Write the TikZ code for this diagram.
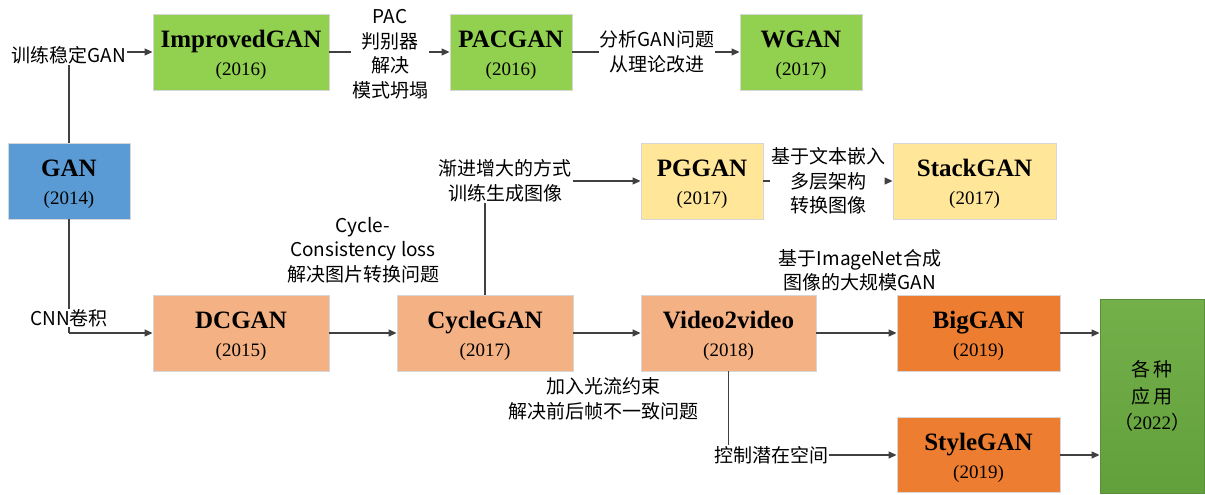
\documentclass[tikz,border=0pt]{standalone}
\usepackage{fontspec}
\setmainfont{Liberation Serif}
\newfontfamily\cjk{Noto Sans CJK SC}
\usetikzlibrary{arrows.meta}
\definecolor{cgreen}{HTML}{92D050}
\definecolor{cblue}{HTML}{5B9BD5}
\definecolor{clorange}{HTML}{F4B183}
\definecolor{cyellow}{HTML}{FFE699}
\definecolor{corange}{HTML}{ED7D31}
\definecolor{cappA}{HTML}{74B04A}
\definecolor{cappB}{HTML}{62A03C}
\definecolor{cappD}{HTML}{5A8F3A}
\definecolor{cline}{HTML}{404040}
\newcommand{\ttl}[1]{{\rule{0pt}{23pt}\fontsize{25}{27}\selectfont\bfseries #1}}
\begin{document}
\begin{tikzpicture}[x=1pt,y=-1pt,
  box/.style={draw=black!16, line width=0.9pt, minimum height=76pt, inner sep=0pt,
    align=center, font=\fontsize{19}{28}\selectfont},
  lab/.style={inner sep=1pt, align=center, font=\cjk\fontsize{19}{24.5}\selectfont},
  conn/.style={draw=cline, line width=1.3pt},
  arr/.style={conn, -{Triangle[length=8pt,width=7pt]}}]
\useasboundingbox (0,0) rectangle (1205,495);
% boxes
\node[box, fill=cgreen, minimum width=176pt] (imp) at (241,52) {\ttl{ImprovedGAN}\\(2016)};
\node[box, fill=cgreen, minimum width=122pt] (pac) at (511,52) {\ttl{PACGAN}\\(2016)};
\node[box, fill=cgreen, minimum width=122pt] (wgan) at (801,52) {\ttl{WGAN}\\(2017)};
\node[box, fill=cblue, minimum width=122pt] (gan) at (69,181) {\ttl{GAN}\\(2014)};
\node[box, fill=clorange, minimum width=176pt] (dc) at (241,333) {\ttl{DCGAN}\\(2015)};
\node[box, fill=clorange, minimum width=176pt] (cyc) at (485,333) {\ttl{CycleGAN}\\(2017)};
\node[box, fill=cyellow, minimum width=122pt] (pg) at (702,181) {\ttl{PGGAN}\\(2017)};
\node[box, fill=cyellow, minimum width=163pt] (stack) at (974.5,181) {\ttl{StackGAN}\\(2017)};
\node[box, fill=clorange, minimum width=175pt] (vid) at (728.5,333) {\ttl{Video2video}\\(2018)};
\node[box, fill=corange, minimum width=163pt] (big) at (978.5,333) {\ttl{BigGAN}\\(2019)};
\node[box, fill=corange, minimum width=163pt, minimum height=75pt] (sty) at (978.5,455) {\ttl{StyleGAN}\\(2019)};
\node[draw=cappD, line width=0.9pt, top color=cappA, bottom color=cappB, minimum width=104pt, minimum height=194pt,
  inner sep=0pt, align=center, font=\fontsize{19}{26.5}\selectfont] (app) at (1152,396)
  {{\cjk 各\,种}\\{\cjk 应\,用}\\{\cjk （}2022{\cjk ）}};
% labels
\node[lab] (l1) at (69,55) {训练稳定GAN};
\node[lab] (lpac) at (390,54) {PAC\\判别器\\解决\\模式坍塌};
\node[lab] (lw) at (657,52) {分析GAN问题\\从理论改进};
\node[lab] (lcyc) at (363,250) {Cycle-\\Consistency loss\\解决图片转换问题};
\node[lab] (lpg) at (505,181) {渐进增大的方式\\训练生成图像};
\node[lab] (lstack) at (828,181) {基于文本嵌入\\多层架构\\转换图像};
\node[lab] (lbig) at (860,270) {基于ImageNet合成\\图像的大规模GAN};
\node[lab] (lflow) at (603,399) {加入光流约束\\解决前后帧不一致问题};
\node[lab] (llat) at (771,455) {控制潜在空间};
% connectors
\draw[conn] (gan.north) -- (l1.south);
\draw[arr] (l1.east |- imp.west) -- (imp.west);
\draw[conn] (gan.south) -- (gan.south |- dc.west);
\draw[arr] (gan.south |- dc.west) -- (dc.west);
\node[lab, fill=white, inner sep=0pt] (lcnn) at (69,318) {CNN卷积};
\draw[conn] (imp.east) -- (lpac.west |- imp.east);
\draw[arr] (lpac.east |- pac.west) -- (pac.west);
\draw[conn] (pac.east) -- (lw.west |- pac.east);
\draw[arr] (lw.east |- wgan.west) -- (wgan.west);
\draw[arr] (dc.east) -- (cyc.west);
\draw[conn] (cyc.north) -- (cyc.north |- lpg.south);
\draw[arr] (lpg.east |- pg.west) -- (pg.west);
\draw[conn] (pg.east) -- (lstack.west |- pg.east);
\draw[arr] (lstack.east |- stack.west) -- (stack.west);
\draw[arr] (cyc.east) -- (vid.west);
\draw[arr] (vid.east) -- (big.west);
\draw[conn] (vid.south) -- (vid.south |- llat.north);
\draw[arr] (llat.east |- sty.west) -- (sty.west);
\draw[arr] (big.east) -- (app.west |- big.east);
\draw[arr] (sty.east) -- (app.west |- sty.east);
\end{tikzpicture}
\end{document}
